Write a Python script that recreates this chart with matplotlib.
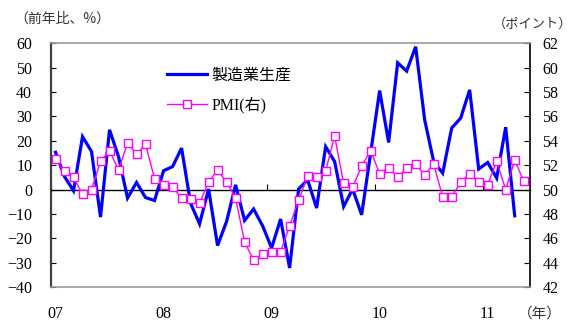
import matplotlib

matplotlib.use("Agg")
import matplotlib.pyplot as plt  # noqa: E402
import matplotlib.transforms as mtransforms  # noqa: E402
import numpy as np  # noqa: E402

plt.rcParams["font.family"] = ["Liberation Serif", "Noto Sans CJK JP"]

# monthly, Jan 2007 onward
production = [
    15.3, 5.3, -0.5, 21.7, 15.6, -11.3, 24.5, 13.5, -3.5, 2.9, -3.3, -4.5,
    7.7, 9.4, 17.0, -5.6, -14.1, 0.2, -23.0, -13.1, 1.9, -12.7, -8.0, -14.9,
    -24.0, -12.1, -32.2, 0.2, 4.0, -7.6, 17.6, 11.5, -7.0, 0.2, -10.4, 15.0,
    40.6, 19.3, 52.0, 48.6, 58.6, 28.6, 11.5, 6.7, 25.2, 29.3, 40.9, 8.4,
    11.1, 4.7, 25.6, -10.8,
]
pmi = [
    52.5, 51.5, 51.0, 49.6, 50.0, 52.3, 53.2, 51.6, 53.8, 52.9, 53.7, 50.9,
    50.4, 50.2, 49.3, 49.2, 48.9, 50.6, 51.6, 50.6, 49.3, 45.7, 44.2, 44.7,
    44.9, 44.9, 47.0, 49.1, 51.1, 51.0, 51.5, 54.4, 50.5, 50.2, 51.9, 53.2,
    51.3, 51.8, 51.0, 51.8, 52.1, 51.2, 52.1, 49.4, 49.4, 50.6, 51.3, 50.6,
    50.4, 52.3, 50.0, 52.4, 50.7,
]
year_labels = ["07", "08", "09", "10", "11"]
label_prod = "製造業生産"
label_pmi = "PMI(右)"

W, H = 574, 324
fig = plt.figure(figsize=(W / 100, H / 100), dpi=100)
ax = fig.add_axes([51 / W, 1 - 287 / H, (530 - 51) / W, (287 - 43.3) / H])
ax2 = ax.twinx()

x_prod = np.arange(len(production))
x_pmi = np.arange(len(pmi))

ax.plot(x_prod, production, color="#0000ff", lw=2.3, solid_joinstyle="miter", zorder=3)
ax2.plot(
    x_pmi, pmi, color="#ff00ff", lw=1.0, marker="s", ms=5.5,
    markerfacecolor="white", markeredgecolor="#ff00ff", markeredgewidth=1.0, zorder=4,
)

ax.set_xlim(-0.5, 52.7)
ax.set_ylim(-40, 60)
ax.set_yticks(np.arange(-40, 61, 10))
ax2.set_ylim(42, 62)
ax2.set_yticks(np.arange(42, 63, 2))

# year boundary ticks sit on the zero line
ax.spines["bottom"].set_position(("data", 0))
ax.spines["bottom"].set_color("black")
ax.spines["bottom"].set_linewidth(1.0)
ax.set_xticks(np.arange(len(year_labels)) * 12 - 0.5)
ax.tick_params(axis="x", direction="in", length=4.5, width=0.8, labelbottom=False)
ax.spines["top"].set_visible(False)
ax.spines["right"].set_visible(False)
ax.spines["left"].set_color("#404040")
ax.spines["left"].set_linewidth(1.6)
ax.tick_params(axis="y", direction="in", length=3.6, width=0.8, pad=13.5,
               labelsize=11.5, colors="black")

ax2.spines["left"].set_visible(False)
for s in ("top", "bottom"):
    ax2.spines[s].set_color("#999999")
    ax2.spines[s].set_linewidth(1.2)
ax2.spines["right"].set_color("black")
ax2.spines["right"].set_linewidth(1.2)
ax2.tick_params(axis="y", direction="in", length=4.5, width=0.8, pad=9,
                labelsize=11.5)

trans = mtransforms.blended_transform_factory(ax.transData, ax.transAxes)
for k, lab in enumerate(year_labels):
    ax.text(k * 12, -0.11, lab, transform=trans, ha="center", va="center", fontsize=11.5)
fig.text(540 / W, 1 - 314 / H, "（年）", ha="center", va="center", fontsize=10.5,
         family="Noto Sans CJK JP", color="#333333")
fig.text(14 / W, 1 - 19 / H, "（前年比、%）", ha="left", va="center", fontsize=10,
         family="Noto Sans CJK JP", color="#333333")
fig.text(572 / W, 1 - 24 / H, "（ポイント）", ha="right", va="center", fontsize=9.5,
         family="Noto Sans CJK JP", color="#333333")

h1 = ax.get_lines()[0]
h2 = ax2.get_lines()[0]
h1.set_label(label_prod)
h2.set_label(label_pmi)
ax2.legend(
    [h1, h2], [label_prod, label_pmi], loc="upper left",
    bbox_to_anchor=(167 / W, 1 - 68 / H), bbox_transform=fig.transFigure,
    frameon=False, borderpad=0, borderaxespad=0, handlelength=2.5,
    handletextpad=0.3, labelspacing=0.8, fontsize=11.5,
    prop={"family": ["Liberation Serif", "Noto Sans CJK JP"], "size": 11.5},
)

fig.savefig("out.png", dpi=100)
plt.close(fig)
